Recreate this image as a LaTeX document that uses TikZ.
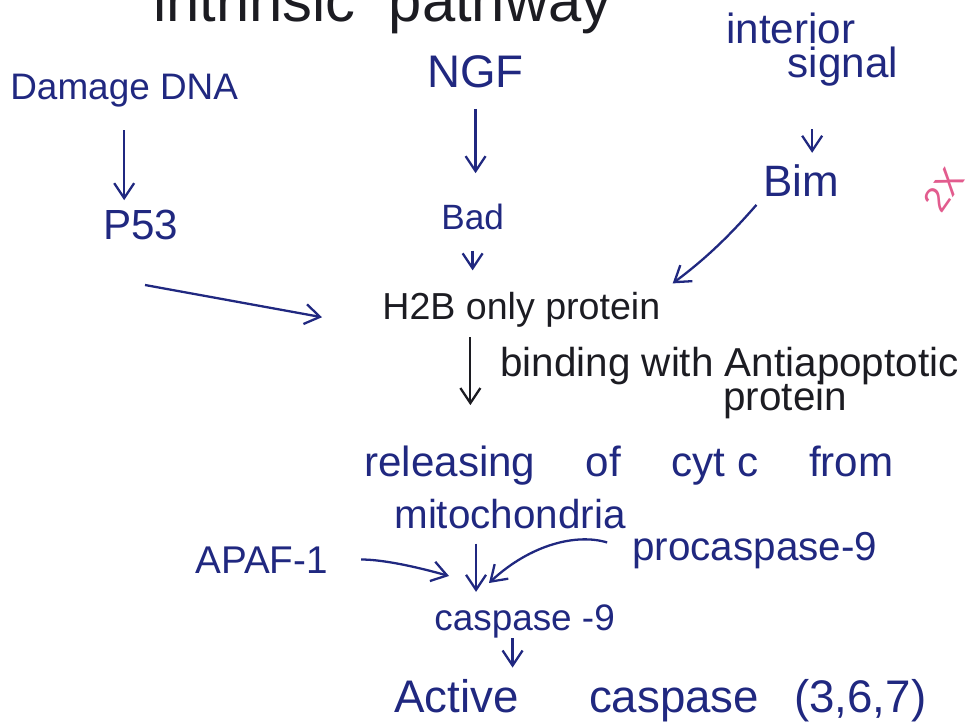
\documentclass[tikz,border=0pt]{standalone}
\usepackage{fontspec}
\setmainfont{Liberation Sans}
\usepackage{xcolor}
\usetikzlibrary{arrows.meta}

\definecolor{ink}{RGB}{32,40,128}
\definecolor{lead}{RGB}{28,28,34}
\definecolor{marker}{RGB}{226,92,142}
\newcommand{\pensize}[1]{\fontsize{#1}{#1}\selectfont}

\begin{document}
\begin{tikzpicture}[x=0.02cm, y=-0.02cm, >={Straight Barb[length=3mm,width=4mm]},
    hand/.style={text=ink, inner sep=0pt, anchor=base west},
    flow/.style={->, draw=ink, line width=1.3pt}]
  \useasboundingbox (0,0) rectangle (971,726);
  % heading, cut by the top edge
  \node[hand, text=lead, font=\pensize{34}] (title) at (153,22) {intrinsic~~pathway};
  % three starting signals
  \node[hand, font=\pensize{21}] (dna) at (10,100) {Damage DNA};
  \node[hand, font=\pensize{26}] (ngf) at (427,88) {NGF};
  \node[hand, font=\pensize{24}, anchor=north west, align=left] (signal) at (726,13) {interior\\[-5pt]\hspace{35pt}signal};
  \node[hand, font=\pensize{24}] (p53) at (103,240) {P53};
  \node[hand, font=\pensize{20}] (bad) at (441,230) {Bad};
  \node[hand, font=\pensize{25}] (bim) at (763,197) {Bim};
  \node[hand, text=marker, font=\pensize{20}, anchor=center, rotate=55] (mark) at (944,190) {2X};
  \draw[flow, shorten <=4.4mm, shorten >=2mm] (dna.south) -- (dna.south |- p53.north);
  \draw[flow, shorten <=4mm, shorten >=6.2mm] (ngf.south) -- (ngf.south |- bad.north);
  \draw[flow, shorten <=8.6mm, shorten >=2.4mm] (signal.south) -- (signal.south |- bim.north);
  % all three meet here
  \node[hand, text=lead, font=\pensize{21.4}] (h2b) at (382,320) {H2B only protein};
  \coordinate (p53tail) at (145,285);
  \draw[flow, shorten >=12.2mm] (p53tail) -- (h2b.south west);
  \draw[flow, shorten <=4mm, shorten >=4.4mm] (bad.south) -- (bad.south |- h2b.north);
  \draw[flow, shorten <=2mm, shorten >=3mm] (bim.south west) to[bend left=6] (h2b.north east);
  % mitochondrial step
  \node[hand, text=lead, font=\pensize{23}, anchor=north west, align=left] (bind) at (500,347) {binding with Antiapoptotic\\[-4pt]\hspace{127pt}protein};
  \node[hand, font=\pensize{24}] (cytc) at (364,477) {releasing\hspace{1.2em}of\hspace{1.2em}cyt c\hspace{1.2em}from};
  \node[hand, font=\pensize{23}] (mito) at (394,528) {mitochondria};
  \draw[flow, draw=lead, shorten <=1.8mm, shorten >=8.2mm] ([xshift=-10.2mm]h2b.south) -- ([xshift=-10.2mm]h2b.south |- cytc.north);
  % apoptosome and caspases
  \node[hand, font=\pensize{22}] (apaf) at (195,573) {APAF-1};
  \node[hand, font=\pensize{23}] (pro) at (632,560) {procaspase-9};
  \node[hand, font=\pensize{21}] (casp9) at (434,630) {caspase -9};
  \node[hand, font=\pensize{26}] (active) at (394,712) {Active\hspace{40pt}caspase\hspace{20pt}(3,6,7)};
  \coordinate (apafhit) at (449,576);
  \coordinate (prohit) at (489,583);
  \draw[flow, shorten <=6.6mm] (apaf.east) to[bend left=8] (apafhit);
  \draw[flow, shorten <=5.2mm] (pro.west) to[bend right=30] (prohit);
  \draw[flow, shorten <=3mm, shorten >=2.4mm] ([xshift=-6.8mm]mito.south) -- ([xshift=-6.8mm]mito.south |- casp9.north);
  \draw[flow, shorten >=2.2mm] ([xshift=-2.4mm]casp9.south) -- ([xshift=-2.4mm]casp9.south |- active.north);
\end{tikzpicture}
\end{document}
